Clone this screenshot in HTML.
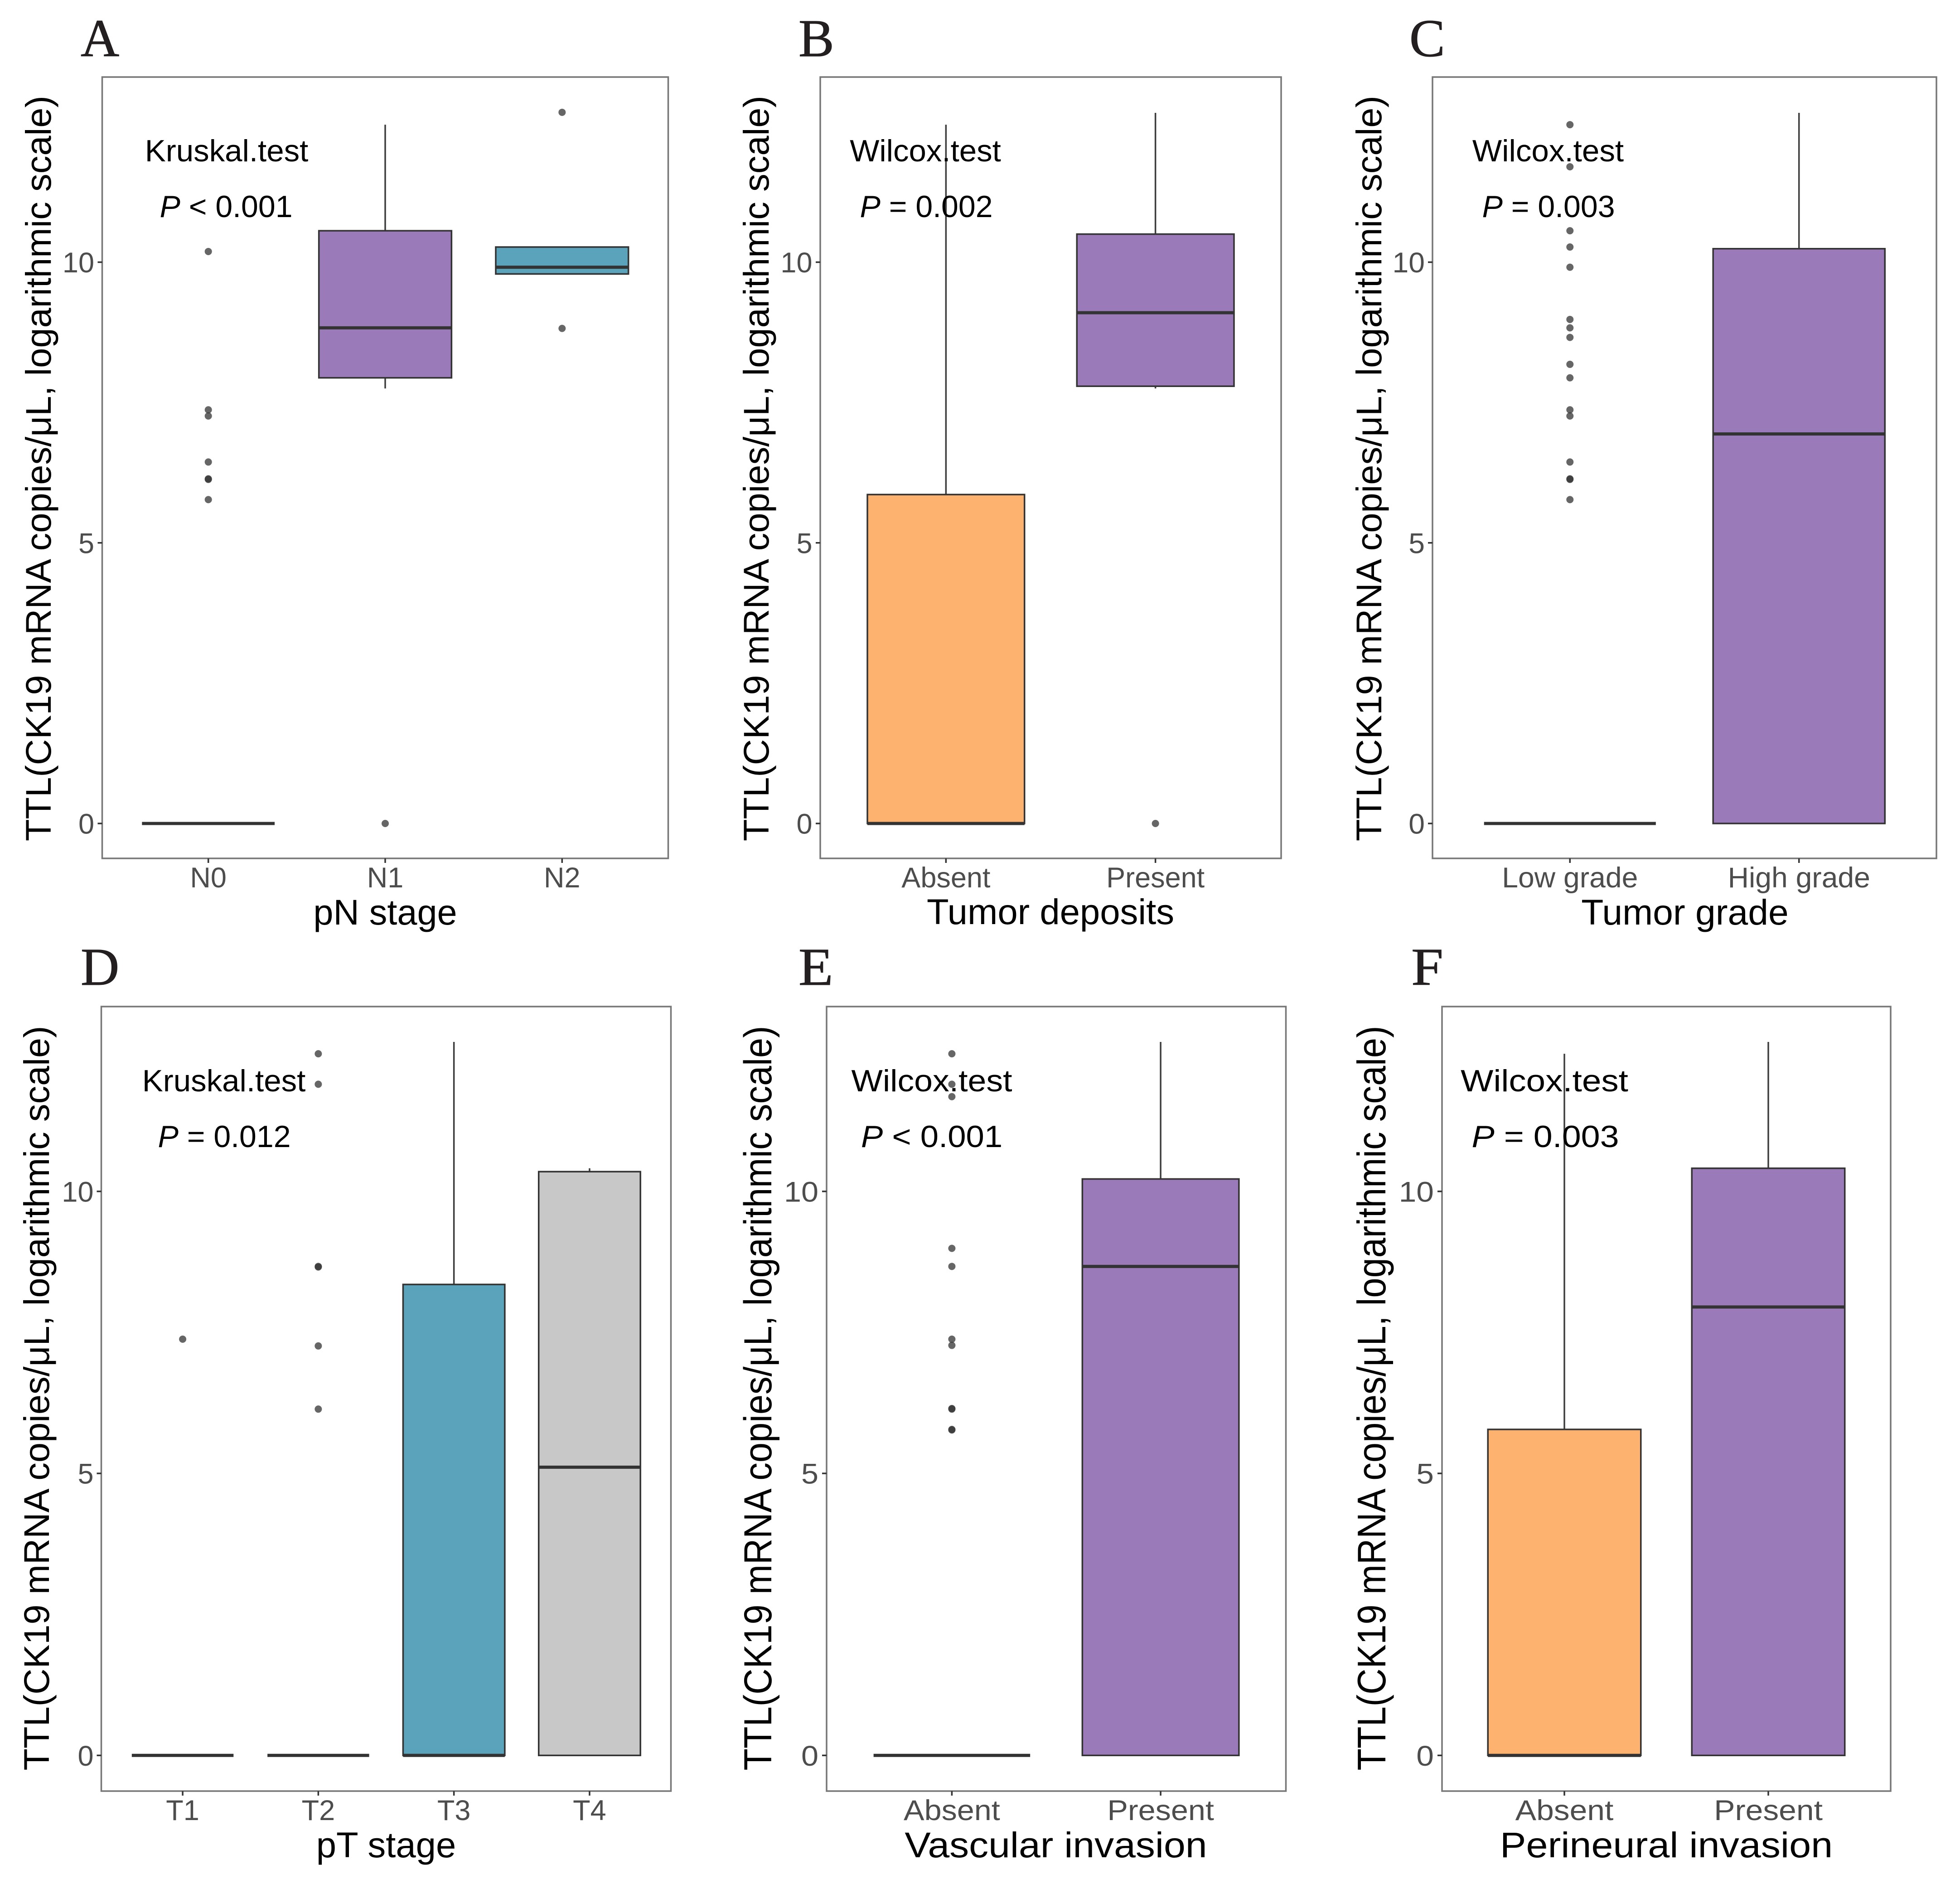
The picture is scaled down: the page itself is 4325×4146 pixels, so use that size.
<!DOCTYPE html>
<html lang="en">
<head>
<meta charset="utf-8">
<title>TTL by clinicopathological features</title>
<style>
html,body{margin:0;padding:0;background:#fff;width:4325px;height:4146px;overflow:hidden}
svg{display:block}
text{font-family:"Liberation Sans",sans-serif}
.letter{font-family:"Liberation Serif",serif;font-size:118px;fill:#231f20;stroke:#231f20;stroke-width:1}
.ytitle{font-size:79px;fill:#000;text-anchor:middle}
.xtitle{font-size:78.5px;fill:#000;text-anchor:middle}
.anno{font-size:68px;fill:#000;text-anchor:middle}
.frame{fill:none;stroke:#777;stroke-width:3.5}
</style>
</head>
<body>
<svg id="figure" xmlns="http://www.w3.org/2000/svg" width="4325" height="4146" viewBox="0 0 4325 4146">
<rect x="0" y="0" width="4325" height="4146" fill="#fff"/>

<g id="panel-a">
  <text class="letter" x="178" y="124">A</text>
  <rect class="frame" x="225.5" y="170" width="1249" height="1724"/>
  <g class="marks"></g>
  <text class="ytitle" transform="translate(112,1033.5) rotate(-90)" textLength="1645" lengthAdjust="spacingAndGlyphs">TTL(CK19 mRNA copies/μL, logarithmic scale)</text>
  <text class="xtitle" transform="translate(850,2040) scale(1.01,1)">pN stage</text>
  <text class="anno" transform="translate(500,356) scale(1.015,1)">Kruskal.test</text>
  <text class="anno" transform="translate(499,479)"><tspan font-style="italic">P</tspan> &lt; 0.001</text>
</g>

<g id="panel-b">
  <text class="letter" x="1762" y="124">B</text>
  <rect class="frame" x="1810" y="170" width="1017" height="1724"/>
  <g class="marks"></g>
  <text class="ytitle" transform="translate(1696,1033.5) rotate(-90)" textLength="1645" lengthAdjust="spacingAndGlyphs">TTL(CK19 mRNA copies/μL, logarithmic scale)</text>
  <text class="xtitle" transform="translate(2318,2039) scale(1.015,1)">Tumor deposits</text>
  <text class="anno" transform="translate(2042,356) scale(1.015,1)">Wilcox.test</text>
  <text class="anno" transform="translate(2044,479)"><tspan font-style="italic">P</tspan> = 0.002</text>
</g>

<g id="panel-c">
  <text class="letter" x="3110" y="124">C</text>
  <rect class="frame" x="3161" y="170" width="1112" height="1724"/>
  <g class="marks"></g>
  <text class="ytitle" transform="translate(3048,1033.5) rotate(-90)" textLength="1645" lengthAdjust="spacingAndGlyphs">TTL(CK19 mRNA copies/μL, logarithmic scale)</text>
  <text class="xtitle" transform="translate(3718,2040) scale(1.025,1)">Tumor grade</text>
  <text class="anno" transform="translate(3416,356) scale(1.017,1)">Wilcox.test</text>
  <text class="anno" transform="translate(3417,479)"><tspan font-style="italic">P</tspan> = 0.003</text>
</g>

<g id="panel-d">
  <text class="letter" x="178" y="2173">D</text>
  <rect class="frame" x="223.5" y="2221" width="1257" height="1731"/>
  <g class="marks"></g>
  <text class="ytitle" transform="translate(108,3085) rotate(-90)" textLength="1643" lengthAdjust="spacingAndGlyphs">TTL(CK19 mRNA copies/μL, logarithmic scale)</text>
  <text class="xtitle" transform="translate(852,4098) scale(1.015,1)">pT stage</text>
  <text class="anno" transform="translate(494,2408) scale(1.015,1)">Kruskal.test</text>
  <text class="anno" transform="translate(495,2531)"><tspan font-style="italic">P</tspan> = 0.012</text>
</g>

<g id="panel-e">
  <text class="letter" transform="translate(1762,2173) scale(1.06,1)">E</text>
  <rect class="frame" x="1824" y="2221" width="1013.5" height="1731"/>
  <g class="marks"></g>
  <text class="ytitle" transform="translate(1702,3085) rotate(-90) scale(1,1.09)" textLength="1643" lengthAdjust="spacingAndGlyphs">TTL(CK19 mRNA copies/μL, logarithmic scale)</text>
  <text class="xtitle" transform="translate(2330,4098) scale(1.095,1)">Vascular invasion</text>
  <text class="anno" transform="translate(2056,2408) scale(1.08,1)">Wilcox.test</text>
  <text class="anno" transform="translate(2056,2531) scale(1.066,1)"><tspan font-style="italic">P</tspan> &lt; 0.001</text>
</g>

<g id="panel-f">
  <text class="letter" transform="translate(3114,2173) scale(1.08,1)">F</text>
  <rect class="frame" x="3182" y="2221" width="990" height="1731"/>
  <g class="marks"></g>
  <text class="ytitle" transform="translate(3057,3085) rotate(-90) scale(1,1.12)" textLength="1643" lengthAdjust="spacingAndGlyphs">TTL(CK19 mRNA copies/μL, logarithmic scale)</text>
  <text class="xtitle" transform="translate(3677,4098) scale(1.1,1)">Perineural invasion</text>
  <text class="anno" transform="translate(3408,2408) scale(1.125,1)">Wilcox.test</text>
  <text class="anno" transform="translate(3410,2531) scale(1.11,1)"><tspan font-style="italic">P</tspan> = 0.003</text>
</g>
</svg>

<script>
// ---- shared tick values ----
const yTickValues = [0, 5, 10];

// ---- Panel A: pN stage ----
const panelAGroups = ['N0', 'N1', 'N2'];
const panelAFills = ['#fdb36f', '#9a7ab8', '#5ba3ba'];
const panelAQ1 = [0, 7.94, 9.79];
const panelAMedian = [0, 8.83, 9.91];
const panelAQ3 = [0, 10.56, 10.27];
const panelAWhiskerLow = [0, 7.75, 9.79];
const panelAWhiskerHigh = [0, 12.45, 10.27];
const panelAOutliers = [[10.19, 7.37, 7.26, 6.44, 6.14, 6.13, 5.77], [0], [12.67, 8.82]];

// ---- Panel B: Tumor deposits ----
const panelBGroups = ['Absent', 'Present'];
const panelBFills = ['#fdb36f', '#9a7ab8'];
const panelBQ1 = [0, 7.79];
const panelBMedian = [0, 9.10];
const panelBQ3 = [5.86, 10.50];
const panelBWhiskerLow = [0, 7.75];
const panelBWhiskerHigh = [12.45, 12.66];
const panelBOutliers = [[], [0]];

// ---- Panel C: Tumor grade ----
const panelCGroups = ['Low grade', 'High grade'];
const panelCFills = ['#fdb36f', '#9a7ab8'];
const panelCQ1 = [0, 0];
const panelCMedian = [0, 6.94];
const panelCQ3 = [0, 10.24];
const panelCWhiskerLow = [0, 0];
const panelCWhiskerHigh = [0, 12.66];
const panelCOutliers = [[12.45, 11.7, 10.56, 10.27, 9.91, 8.98, 8.83, 8.66, 8.18, 7.94, 7.37, 7.26, 6.44, 6.14, 6.13, 5.77], []];

// ---- Panel D: pT stage ----
const panelDGroups = ['T1', 'T2', 'T3', 'T4'];
const panelDFills = ['#fdb36f', '#9a7ab8', '#5ba3ba', '#c8c8c8'];
const panelDQ1 = [0, 0, 0, 0];
const panelDMedian = [0, 0, 0, 5.11];
const panelDQ3 = [0, 0, 8.35, 10.35];
const panelDWhiskerLow = [0, 0, 0, 0];
const panelDWhiskerHigh = [0, 0, 12.65, 10.41];
const panelDOutliers = [[7.38], [12.44, 11.9, 8.67, 8.66, 7.26, 6.14], [], []];

// ---- Panel E: Vascular invasion ----
const panelEGroups = ['Absent', 'Present'];
const panelEFills = ['#fdb36f', '#9a7ab8'];
const panelEQ1 = [0, 0];
const panelEMedian = [0, 8.67];
const panelEQ3 = [0, 10.22];
const panelEWhiskerLow = [0, 0];
const panelEWhiskerHigh = [0, 12.65];
const panelEOutliers = [[12.44, 11.9, 11.68, 8.99, 8.67, 7.38, 7.27, 6.15, 6.14, 5.78, 5.77], []];

// ---- Panel F: Perineural invasion ----
const panelFGroups = ['Absent', 'Present'];
const panelFFills = ['#fdb36f', '#9a7ab8'];
const panelFQ1 = [0, 0];
const panelFMedian = [0, 7.95];
const panelFQ3 = [5.78, 10.41];
const panelFWhiskerLow = [0, 0];
const panelFWhiskerHigh = [12.44, 12.65];
const panelFOutliers = [[], []];

const SVG_NS = 'http://www.w3.org/2000/svg';

function make(tag, parent, props, label) {
  const el = document.createElementNS(SVG_NS, tag);
  for (const k in props) el.setAttribute(k, props[k]);
  if (label !== undefined) el.textContent = label;
  parent.appendChild(el);
  return el;
}

function drawPanel(layout, groups, fills, q1, med, q3, wLow, wHigh, outliers) {
  const host = document.querySelector('#' + layout.id + ' .marks');
  const step = (layout.right - layout.left) / (groups.length - 1 + 1.2);
  const xScale = function (i) { return layout.left + (i + 0.6) * step; };
  const yScale = function (v) { return layout.zero - v * layout.unit; };
  const boxW = step * 0.75;

  yTickValues.forEach(function (t) {
    const tick = make('line', host, {x1: layout.left - 10, x2: layout.left, y1: yScale(t), y2: yScale(t), stroke: '#333', 'stroke-width': 3.5});
    
    
    const lab = make('text', host, {transform: 'translate(' + layout.yLabelX + ',' + (yScale(t) + 22.5) + ') scale(' + layout.textScale + ',1)', 'text-anchor': 'end', 'font-size': 63, fill: '#4d4d4d'}, String(t));
    
    
  });

  groups.forEach(function (g, i) {
    const cx = xScale(i);

    const xTick = make('line', host, {x1: cx, x2: cx, y1: layout.bottom, y2: layout.bottom + 10, stroke: '#333', 'stroke-width': 3.5});
    
    

    const xLab = make('text', host, {transform: 'translate(' + cx + ',' + layout.xLabelY + ') scale(' + layout.textScale + ',1)', 'text-anchor': 'middle', 'font-size': 63, fill: '#4d4d4d'}, g);
    
    

    const upper = make('line', host, {x1: cx, x2: cx, y1: yScale(q3[i]), y2: yScale(wHigh[i]), stroke: '#3d3d3d', 'stroke-width': 3.5});
    
    

    const lower = make('line', host, {x1: cx, x2: cx, y1: yScale(q1[i]), y2: yScale(wLow[i]), stroke: '#3d3d3d', 'stroke-width': 3.5});
    
    

    const box = make('rect', host, {x: cx - boxW / 2, y: yScale(q3[i]), width: boxW, height: yScale(q1[i]) - yScale(q3[i]), fill: fills[i], stroke: '#333', 'stroke-width': 3.5});
    
    

    const median = make('line', host, {x1: cx - boxW / 2, x2: cx + boxW / 2, y1: yScale(med[i]), y2: yScale(med[i]), stroke: '#333', 'stroke-width': 7});
    
    

    outliers[i].forEach(function (v) {
      const dot = make('circle', host, {cx: cx, cy: yScale(v), r: 8, fill: '#333', 'fill-opacity': 0.75});
      
      
    });
  });
}

const topRow = {zero: 1817, unit: 123.85};
const bottomRow = {zero: 3873.3, unit: 124.45};

drawPanel({id: 'panel-a', left: 225.5, right: 1474.5, bottom: 1894, zero: topRow.zero, unit: topRow.unit, yLabelX: 208, xLabelY: 1958, textScale: 1},
  panelAGroups, panelAFills, panelAQ1, panelAMedian, panelAQ3, panelAWhiskerLow, panelAWhiskerHigh, panelAOutliers);
drawPanel({id: 'panel-b', left: 1810, right: 2827, bottom: 1894, zero: topRow.zero, unit: topRow.unit, yLabelX: 1792.5, xLabelY: 1958, textScale: 1},
  panelBGroups, panelBFills, panelBQ1, panelBMedian, panelBQ3, panelBWhiskerLow, panelBWhiskerHigh, panelBOutliers);
drawPanel({id: 'panel-c', left: 3161, right: 4273, bottom: 1894, zero: topRow.zero, unit: topRow.unit, yLabelX: 3144, xLabelY: 1958, textScale: 1.02},
  panelCGroups, panelCFills, panelCQ1, panelCMedian, panelCQ3, panelCWhiskerLow, panelCWhiskerHigh, panelCOutliers);
drawPanel({id: 'panel-d', left: 223.5, right: 1480.5, bottom: 3952, zero: bottomRow.zero, unit: bottomRow.unit, yLabelX: 206.5, xLabelY: 4016, textScale: 1},
  panelDGroups, panelDFills, panelDQ1, panelDMedian, panelDQ3, panelDWhiskerLow, panelDWhiskerHigh, panelDOutliers);
drawPanel({id: 'panel-e', left: 1824, right: 2837.5, bottom: 3952, zero: bottomRow.zero, unit: bottomRow.unit, yLabelX: 1806, xLabelY: 4016, textScale: 1.085},
  panelEGroups, panelEFills, panelEQ1, panelEMedian, panelEQ3, panelEWhiskerLow, panelEWhiskerHigh, panelEOutliers);
drawPanel({id: 'panel-f', left: 3182, right: 4172, bottom: 3952, zero: bottomRow.zero, unit: bottomRow.unit, yLabelX: 3164, xLabelY: 4016, textScale: 1.105},
  panelFGroups, panelFFills, panelFQ1, panelFMedian, panelFQ3, panelFWhiskerLow, panelFWhiskerHigh, panelFOutliers);
</script>
</body>
</html>
